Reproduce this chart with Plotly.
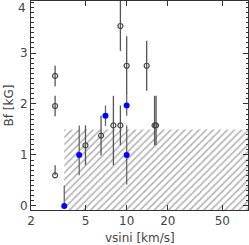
import plotly.graph_objects as go
import math

# open (gray) points
open_v = [3.0, 3.0, 3.0, 5.0, 6.5, 8.0, 9.0, 9.0, 10.0, 14.0, 16.0, 16.4]
open_b = [2.55, 1.96, 0.60, 1.19, 1.38, 1.58, 1.58, 3.53, 2.75, 2.75, 1.58, 1.58]
open_up = [0.2, 0.2, 0.2, 0.39, 0.39, 0.58, 0.39, 0.49, 0.58, 0.49, 0.58, 0.58]
open_dn = [0.2, 0.2, 0.0, 0.39, 0.39, 0.78, 0.39, 0.49, 0.58, 0.49, 0.39, 0.39]

# filled (blue) points
blue_v = [3.5, 4.5, 7.0, 10.0, 10.0]
blue_b = [0.0, 1.0, 1.77, 1.97, 1.0]
blue_up = [0.4, 0.58, 0.2, 0.2, 0.58]
blue_dn = [0.0, 0.4, 0.2, 0.2, 0.58]

# hatched detection-limit region
hatch_vmin = 3.5
hatch_vmax = 100.0
hatch_bmin = -1.0
hatch_bmax = 1.5

x_ticks = [2, 5, 10, 20, 50]
y_ticks = [0, 1, 2, 3, 4]

FONT = "DejaVu Sans"
TXT = "#444444"

fig = go.Figure()

fig.add_trace(go.Scatter(
    x=[hatch_vmin, hatch_vmax, hatch_vmax, hatch_vmin, hatch_vmin],
    y=[hatch_bmin, hatch_bmin, hatch_bmax, hatch_bmax, hatch_bmin],
    mode="lines", line=dict(width=0, color="rgba(0,0,0,0)"),
    fill="toself", fillcolor="rgba(0,0,0,0)",
    fillpattern=dict(shape="/", size=5, solidity=0.32, fgcolor="#666666", bgcolor="rgba(255,255,255,0)"),
    hoverinfo="skip", showlegend=False))

fig.add_trace(go.Scatter(
    x=open_v, y=open_b, mode="markers",
    marker=dict(symbol="circle-open", size=5, color="#444444", line=dict(width=1.2)),
    error_y=dict(type="data", symmetric=False, array=open_up, arrayminus=open_dn,
                 width=0, thickness=1.3, color="#555555"),
    showlegend=False))

fig.add_trace(go.Scatter(
    x=blue_v, y=blue_b, mode="markers",
    marker=dict(symbol="circle", size=6, color="#0000ff"),
    error_y=dict(type="data", symmetric=False, array=blue_up, arrayminus=blue_dn,
                 width=0, thickness=1.3, color="#666666"),
    showlegend=False))

axis_common = dict(showline=True, mirror="allticks", linecolor="#333333", linewidth=1,
                   ticks="inside", tickcolor="#333333", ticklen=5, showgrid=False, zeroline=False,
                   automargin=False,
                   tickfont=dict(family=FONT, size=12, color=TXT))

fig.update_xaxes(type="log", range=[math.log10(2), math.log10(77)],
                 tickvals=x_ticks, ticktext=[str(t) for t in x_ticks],
                 **axis_common)
fig.update_yaxes(range=[-0.08, 4.02], tickvals=y_ticks[:-1],
                 minor=dict(ticks="inside", ticklen=2.5, dtick=0.1, tickcolor="#333333"),
                 **axis_common)

# top tick label (would be clipped at the page edge otherwise)
fig.add_annotation(text=str(y_ticks[-1]), xref="paper", yref="y", x=0, y=y_ticks[-1],
                   xanchor="right", yanchor="top", xshift=-3, yshift=3, showarrow=False,
                   font=dict(family=FONT, size=12, color=TXT))

fig.add_annotation(text="vsini [km/s]", xref="paper", yref="paper", x=0.5, y=0,
                   yshift=-28, xanchor="center", yanchor="middle", showarrow=False,
                   font=dict(family=FONT, size=12, color=TXT))
fig.add_annotation(text="Bf [kG]", xref="paper", yref="paper", x=0, y=0.5,
                   xshift=-23, xanchor="center", yanchor="middle", textangle=-90, showarrow=False,
                   font=dict(family=FONT, size=12, color=TXT))

fig.update_layout(width=249, height=245, margin=dict(l=31, r=1, t=1, b=35),
                  plot_bgcolor="white", paper_bgcolor="white")

fig.write_html("out.html", config={"displayModeBar": False},
               post_script="document.body.style.margin='0';document.body.style.overflow='hidden';")
